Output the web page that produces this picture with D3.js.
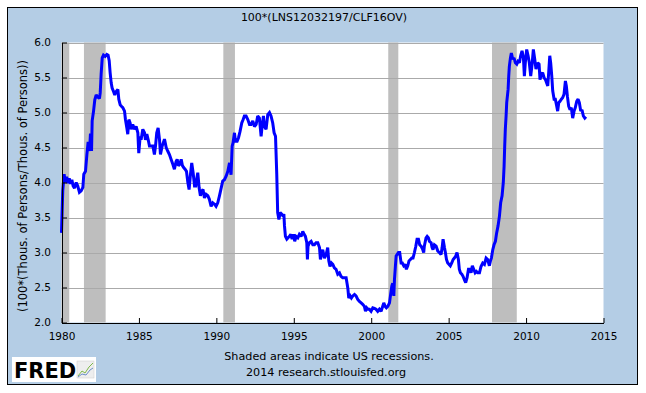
<!DOCTYPE html>
<html>
<head>
<meta charset="utf-8">
<script src="https://cdn.jsdelivr.net/npm/d3@7"></script>
<style>
html,body{margin:0;padding:0;background:#fff;}
svg{display:block;}
text{font-family:"DejaVu Sans",Verdana,sans-serif;fill:#000;}
</style>
</head>
<body>
<svg id="chart" width="646" height="393"></svg>
<script>
// ---- data ----
const title = "100*(LNS12032197/CLF16OV)";
const yLabel = "(100*(Thous. of Persons/Thous. of Persons))";
const footLines = ["Shaded areas indicate US recessions.", "2014 research.stlouisfed.org"];
const xTicks = [1980, 1985, 1990, 1995, 2000, 2005, 2010, 2015];
const yTicks = [2.0, 2.5, 3.0, 3.5, 4.0, 4.5, 5.0, 5.5, 6.0];
const recessionStart = [1980.00, 1981.45, 1990.45, 2001.10, 2007.80];
const recessionEnd   = [1980.50, 1982.85, 1991.20, 2001.75, 2009.40];

const dates = [
1980.00,1980.08,1980.17,1980.25,1980.33,1980.42,1980.50,1980.58,1980.67,1980.75,1980.84,1980.95,
1981.05,1981.16,1981.27,1981.38,1981.44,1981.55,1981.64,1981.72,1981.81,1981.87,1981.94,1981.98,
1982.07,1982.15,1982.24,1982.35,1982.45,1982.50,1982.56,1982.63,1982.71,1982.82,1982.93,
1983.01,1983.08,1983.14,1983.21,1983.27,1983.36,1983.44,1983.53,1983.64,1983.70,1983.79,1983.87,1983.96,
1984.07,1984.13,1984.22,1984.28,1984.35,1984.43,1984.50,1984.60,1984.71,1984.82,1984.93,1984.99,
1985.08,1985.14,1985.25,1985.36,1985.42,1985.51,1985.60,1985.68,1985.79,1985.90,
1986.00,1986.07,1986.15,1986.24,1986.33,1986.39,1986.50,1986.65,1986.76,1986.86,1986.97,
1987.08,1987.19,1987.29,1987.40,1987.47,1987.55,1987.64,1987.73,1987.81,1987.90,1987.98,
1988.07,1988.16,1988.24,1988.33,1988.41,1988.50,1988.59,1988.67,1988.76,1988.80,1988.89,1988.97,
1989.06,1989.14,1989.23,1989.34,1989.45,1989.55,1989.66,1989.77,1989.88,1989.98,
1990.09,1990.20,1990.31,1990.41,1990.52,1990.63,1990.74,1990.85,1990.95,
1991.02,1991.08,1991.17,1991.23,1991.34,1991.43,1991.53,1991.64,1991.73,1991.81,1991.92,
1992.03,1992.14,1992.24,1992.35,1992.46,1992.57,1992.67,1992.78,1992.89,1992.95,
1993.04,1993.10,1993.21,1993.32,1993.43,1993.53,1993.64,1993.73,1993.82,1993.90,1993.96,
1994.04,1994.12,1994.21,1994.31,1994.36,1994.40,1994.46,1994.55,1994.63,1994.72,1994.81,1994.89,1994.98,
1995.06,1995.15,1995.26,1995.36,1995.47,1995.58,1995.67,1995.75,1995.84,1995.88,1995.92,
1996.01,1996.12,1996.23,1996.33,1996.44,1996.55,1996.66,1996.72,1996.81,1996.87,1996.98,
1997.09,1997.19,1997.26,1997.34,1997.43,1997.52,1997.62,1997.73,1997.84,1997.95,
1998.05,1998.16,1998.27,1998.38,1998.49,1998.55,1998.64,1998.72,1998.81,1998.92,
1999.02,1999.13,1999.24,1999.35,1999.45,1999.56,1999.63,1999.71,1999.80,1999.88,1999.99,
2000.10,2000.21,2000.31,2000.42,2000.53,2000.64,2000.74,2000.81,2000.90,2000.98,
2001.07,2001.18,2001.24,2001.33,2001.39,2001.46,2001.50,2001.56,2001.61,2001.67,2001.76,2001.84,2001.93,
2002.01,2002.10,2002.19,2002.27,2002.36,2002.44,2002.53,2002.62,2002.70,2002.79,2002.88,2002.96,
2003.05,2003.13,2003.22,2003.33,2003.39,2003.43,2003.54,2003.61,2003.69,2003.76,2003.87,2003.93,2003.99,
2004.08,2004.19,2004.30,2004.40,2004.51,2004.58,2004.64,2004.73,2004.79,2004.86,2004.94,
2005.03,2005.11,2005.20,2005.29,2005.37,2005.46,2005.54,2005.63,2005.69,2005.76,2005.85,2005.93,
2006.02,2006.10,2006.19,2006.28,2006.36,2006.45,2006.53,2006.62,2006.71,2006.79,2006.88,2006.99,
2007.09,2007.20,2007.31,2007.42,2007.52,2007.63,2007.70,2007.76,2007.85,2007.93,
2008.02,2008.10,2008.19,2008.28,2008.36,2008.45,2008.53,2008.58,2008.62,2008.66,2008.71,2008.75,2008.84,2008.88,2008.92,2008.99,
2009.05,2009.14,2009.22,2009.31,2009.40,2009.48,2009.57,2009.65,2009.74,2009.83,2009.89,2009.95,
2010.04,2010.13,2010.21,2010.30,2010.39,2010.47,2010.56,2010.64,2010.75,2010.84,2010.90,2010.99,
2011.07,2011.16,2011.25,2011.33,2011.40,2011.46,2011.53,2011.59,2011.66,2011.72,2011.81,2011.89,2011.98,
2012.04,2012.11,2012.19,2012.28,2012.36,2012.45,2012.54,2012.60,2012.67,2012.75,2012.84,2012.92,
2013.01,2013.10,2013.18,2013.27,2013.36,2013.44,2013.53,2013.61,2013.70,2013.79,2013.87
];
const values = [
3.28,3.88,4.12,4.00,4.08,3.99,4.06,3.98,4.04,3.95,3.92,4.00,
3.95,3.86,3.88,3.93,4.12,4.16,4.40,4.58,4.45,4.70,4.45,4.88,
5.02,5.18,5.25,5.22,5.20,5.28,5.55,5.78,5.82,5.80,5.83,
5.82,5.74,5.57,5.42,5.35,5.30,5.25,5.30,5.33,5.19,5.11,5.09,5.07,
5.02,4.90,4.78,4.69,4.90,4.85,4.76,4.83,4.76,4.80,4.71,4.42,
4.66,4.61,4.76,4.71,4.61,4.69,4.61,4.52,4.52,4.52,
4.40,4.52,4.71,4.78,4.61,4.40,4.52,4.62,4.50,4.45,4.40,
4.33,4.26,4.19,4.30,4.33,4.24,4.26,4.33,4.24,4.21,4.19,
4.16,4.00,3.90,4.12,4.28,4.14,3.95,3.95,4.09,4.14,3.92,3.81,
3.88,3.90,3.78,3.83,3.81,3.76,3.66,3.71,3.69,3.66,
3.71,3.81,3.92,4.02,4.04,4.09,4.16,4.28,4.11,
4.52,4.57,4.71,4.59,4.59,4.64,4.73,4.85,4.90,4.95,4.95,
4.90,4.83,4.83,4.88,4.80,4.83,4.95,4.92,4.66,4.80,
4.95,4.80,4.76,4.97,5.00,4.95,4.85,4.71,4.66,4.12,3.57,
3.47,3.57,3.55,3.52,3.55,3.38,3.23,3.19,3.21,3.23,3.26,3.19,3.26,
3.16,3.23,3.21,3.26,3.23,3.30,3.26,3.23,3.14,2.90,3.09,
3.14,3.16,3.11,3.11,3.14,3.14,3.07,2.90,3.00,3.04,2.92,
2.97,3.07,2.88,2.80,2.85,2.83,2.78,2.76,2.69,2.71,
2.66,2.64,2.64,2.64,2.49,2.35,2.38,2.35,2.38,2.40,
2.38,2.33,2.30,2.28,2.26,2.23,2.16,2.21,2.19,2.19,2.16,
2.21,2.20,2.19,2.16,2.19,2.16,2.23,2.28,2.23,2.21,
2.23,2.28,2.38,2.52,2.56,2.38,2.61,2.80,2.95,2.97,3.00,3.00,2.85,
2.85,2.81,2.83,2.76,2.81,2.88,2.90,2.92,2.92,3.00,3.09,3.19,
3.19,3.11,3.09,3.04,3.00,3.09,3.21,3.23,3.21,3.16,3.14,3.07,3.04,
3.11,3.09,3.02,3.00,2.97,3.07,3.19,3.07,3.00,2.90,2.85,
2.83,2.81,2.85,2.90,2.92,2.95,3.00,2.90,2.76,2.71,2.69,2.66,
2.61,2.57,2.64,2.76,2.76,2.71,2.81,2.76,2.71,2.73,2.71,2.71,
2.80,2.85,2.83,2.92,2.90,2.81,2.88,2.92,3.04,3.11,
3.16,3.28,3.38,3.52,3.71,3.81,4.00,4.23,4.52,4.76,4.95,5.14,5.33,5.52,5.66,5.78,
5.85,5.76,5.78,5.71,5.69,5.73,5.71,5.81,5.88,5.78,5.52,5.71,
5.90,5.81,5.71,5.52,5.69,5.90,5.76,5.62,5.71,5.69,5.47,5.54,
5.57,5.50,5.47,5.42,5.38,5.57,5.81,5.71,5.52,5.31,5.19,5.19,5.09,
5.02,5.14,5.16,5.19,5.21,5.26,5.45,5.38,5.23,5.09,5.04,5.07,
4.92,5.02,5.07,5.16,5.19,5.14,5.02,5.04,4.95,4.92,4.94
];

// ---- drawing ----
const svg = d3.select("#chart");
const W = 646, H = 393;
const plot = {left: 61.5, right: 603.5, top: 42.5, bottom: 322.5};

svg.append("rect").attr("x", 7.5).attr("y", 7.5).attr("width", 630).attr("height", 377)
  .attr("fill", "#B4CDE5").attr("stroke", "#000").attr("stroke-width", 1);

const x = d3.scaleLinear().domain([1980, 2015]).range([plot.left, plot.right]);
const y = d3.scaleLinear().domain([2, 6]).range([plot.bottom, plot.top]);

svg.append("rect").attr("x", plot.left).attr("y", plot.top)
  .attr("width", plot.right - plot.left).attr("height", plot.bottom - plot.top).attr("fill", "#fff");

// recessions
svg.append("g").selectAll("rect").data(recessionStart).join("rect")
  .attr("x", (d) => x(d)).attr("y", plot.top)
  .attr("width", (d, i) => x(recessionEnd[i]) - x(d))
  .attr("height", plot.bottom - plot.top).attr("fill", "#BEBEBE");

// gridlines
svg.append("g").selectAll("line").data(yTicks.filter(v => v > 2)).join("line")
  .attr("x1", plot.left).attr("x2", plot.right)
  .attr("y1", d => Math.round(y(d)) + 0.5).attr("y2", d => Math.round(y(d)) + 0.5)
  .attr("stroke", "#AAAAAA").attr("stroke-width", 1);

// series line
const pts = dates.map((d, i) => [d, values[i]]);
const line = d3.line().x(d => x(d[0])).y(d => y(d[1]));
svg.append("path").datum(pts).attr("d", line)
  .attr("fill", "none").attr("stroke", "#0000FF").attr("stroke-width", 3)
  .attr("stroke-linejoin", "miter").attr("stroke-miterlimit", 2);

// axes
const yAxis = d3.axisLeft(y).tickValues(yTicks).tickFormat(d3.format(".1f"))
  .tickSizeInner(-5).tickSizeOuter(0).tickPadding(11);
const gy = svg.append("g").attr("transform", `translate(${plot.left + 0.5},0)`).call(yAxis);
gy.select(".domain").attr("stroke", "#000");
gy.selectAll(".tick line").attr("stroke", "#000");
gy.selectAll("text").attr("font-size", 10.5).attr("font-family", "DejaVu Sans");

const xAxis = d3.axisBottom(x).tickValues(xTicks).tickFormat(d3.format("d"))
  .tickSizeInner(-5).tickSizeOuter(0).tickPadding(10);
const gx = svg.append("g").attr("transform", `translate(0,${plot.bottom + 0.5})`).call(xAxis);
gx.select(".domain").attr("stroke", "#000");
gx.selectAll(".tick line").attr("stroke", "#000");
gx.selectAll("text").attr("font-size", 10.5).attr("font-family", "DejaVu Sans");

// texts
svg.append("text").attr("x", 324).attr("y", 21).attr("text-anchor", "middle")
  .attr("font-size", 11).text(title);
svg.append("text").attr("transform", "translate(27,186) rotate(-90)")
  .attr("text-anchor", "middle").attr("font-size", 11.5).text(yLabel);
svg.append("text").attr("x", 329).attr("y", 360).attr("text-anchor", "middle")
  .attr("font-size", 11.2).text(footLines[0]);
svg.append("text").attr("x", 326).attr("y", 376).attr("text-anchor", "middle")
  .attr("font-size", 11.2).text(footLines[1]);

// FRED logo
const logo = svg.append("g");
logo.append("rect").attr("x", 12).attr("y", 357).attr("width", 84).attr("height", 25).attr("fill", "#fff");
logo.append("text").attr("x", 14).attr("y", 378).attr("font-family", "Liberation Sans, Arial, sans-serif")
  .attr("font-weight", "bold").attr("font-size", 21).attr("fill", "#222").text("FRED");
logo.append("rect").attr("x", 77).attr("y", 361).attr("width", 17).attr("height", 17)
  .attr("fill", "#EEEEEE").attr("stroke", "#CCCCCC").attr("stroke-width", 0.5);
logo.append("polyline").attr("points", "78,376 82,371 85,373 89,367 93,363")
  .attr("fill", "none").attr("stroke", "#7DB84A").attr("stroke-width", 1);
logo.append("polyline").attr("points", "78,377 82,374 86,375 90,370 93,368")
  .attr("fill", "none").attr("stroke", "#6C8EC9").attr("stroke-width", 1);
</script>
</body>
</html>
